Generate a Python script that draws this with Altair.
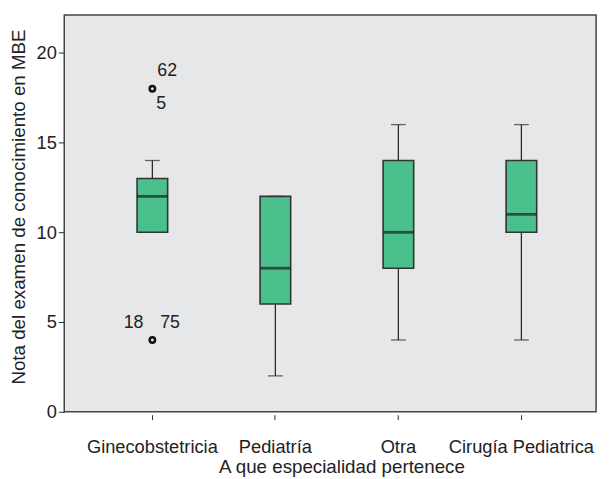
import altair as alt
import pandas as pd

categories = ["Ginecobstetricia", "Pediatría", "Otra", "Cirugía Pediatrica"]
whisker_low = [10, 2, 4, 4]
q1 = [10, 6, 8, 10]
median = [12, 8, 10, 11]
q3 = [13, 12, 14, 14]
whisker_high = [14, 12, 16, 16]

outlier_cat = ["Ginecobstetricia", "Ginecobstetricia"]
outlier_val = [18, 4]
# labels of outlier cases: (category, value, label)
outlier_labels = [
    ("Ginecobstetricia", 18, "62"),
    ("Ginecobstetricia", 18, "5"),
    ("Ginecobstetricia", 4, "18"),
    ("Ginecobstetricia", 4, "75"),
]

FONT = "Liberation Sans"
GREEN = "#4bbf8c"
DARK = "#2a2a2a"

box_df = pd.DataFrame({
    "cat": categories, "lo": whisker_low, "q1": q1, "med": median,
    "q3": q3, "hi": whisker_high,
})
out_df = pd.DataFrame({"cat": outlier_cat, "val": outlier_val})

x_scale = alt.Scale(domain=categories, paddingInner=0, paddingOuter=0.1617, align=0.669)
y_scale = alt.Scale(domain=[0, 22.1], nice=False, zero=True)

x_enc = alt.X("cat:N", scale=x_scale, sort=categories, axis=alt.Axis(
    title="A que especialidad pertenece", labelAngle=0, domain=False,
    offset=3, tickSize=5, tickColor=DARK, labelPadding=18,
    labelFont=FONT, labelFontSize=18.5, labelColor="#222",
    titleFont=FONT, titleFontSize=19, titleFontWeight="normal", titleColor="#222",
    titleX=281, titleY=59, titleAlign="center", titleBaseline="alphabetic", titleAnchor="start",
))
y_axis = alt.Axis(
    title="Nota del examen de conocimiento en MBE", values=[0, 5, 10, 15, 20],
    grid=False, domain=False, tickSize=6, tickColor=DARK, labelPadding=2,
    labelFont=FONT, labelFontSize=18.5, labelColor="#222",
    titleFont=FONT, titleFontSize=19, titleFontWeight="normal", titleColor="#222",
    titleX=-40, titleY=194, titleAlign="center", titleBaseline="alphabetic", titleAngle=270,
)

base = alt.Chart(box_df)

whisk = base.mark_rule(color=DARK, strokeWidth=1.3).encode(
    x=x_enc, y=alt.Y("lo:Q", scale=y_scale, axis=y_axis), y2="hi:Q")
cap_lo = base.mark_tick(color=DARK, size=15, thickness=1.3).encode(
    x=alt.X("cat:N", scale=x_scale, sort=categories), y=alt.Y("lo:Q", scale=y_scale))
cap_hi = base.mark_tick(color=DARK, size=15, thickness=1.3).encode(
    x=alt.X("cat:N", scale=x_scale, sort=categories), y=alt.Y("hi:Q", scale=y_scale))
box = base.mark_bar(fill=GREEN, stroke="#333", strokeWidth=1.6, size=31).encode(
    x=alt.X("cat:N", scale=x_scale, sort=categories), y=alt.Y("q1:Q", scale=y_scale), y2="q3:Q")
med = base.mark_tick(color="#1e1e1e", size=31, thickness=2.8).encode(
    x=alt.X("cat:N", scale=x_scale, sort=categories), y=alt.Y("med:Q", scale=y_scale))
pts = alt.Chart(out_df).mark_point(shape="circle", filled=False, color="#111",
                                   strokeWidth=2.5, size=30, opacity=1).encode(
    x=alt.X("cat:N", scale=x_scale, sort=categories), y=alt.Y("val:Q", scale=y_scale))

offsets = [(15, -18), (9, 16), (-19, -17), (18, -17)]
texts = []
for (c, v, lab), (dx, dy) in zip(outlier_labels, offsets):
    tdf = pd.DataFrame({"cat": [c], "val": [v], "lab": [lab]})
    texts.append(alt.Chart(tdf).mark_text(font=FONT, fontSize=18, color="#222",
                                          dx=dx, dy=dy, align="center", baseline="middle").encode(
        x=alt.X("cat:N", scale=x_scale, sort=categories), y=alt.Y("val:Q", scale=y_scale),
        text="lab:N"))

chart = alt.layer(whisk, cap_lo, cap_hi, box, med, pts, *texts).properties(
    width=539, height=402,
    autosize=alt.AutoSizeParams(type="none"),
    padding={"left": 57, "top": 4, "right": 5, "bottom": 70},
).configure_view(fill="#e6e7e9", stroke="#444", strokeWidth=1.5)

chart.save("out.html", embed_options={"renderer": "svg", "actions": False})
